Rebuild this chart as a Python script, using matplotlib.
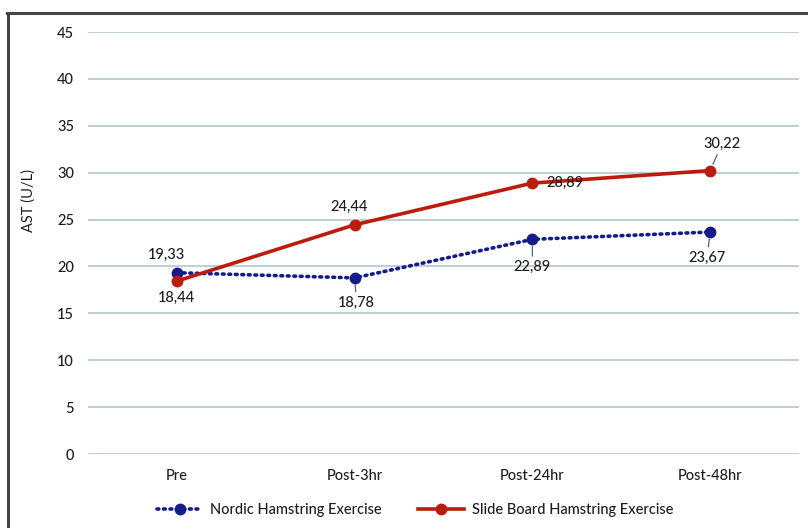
import matplotlib
matplotlib.use("Agg")
from matplotlib import pyplot as plt
from matplotlib.lines import Line2D

plt.rcParams["font.family"] = ["Lato", "DejaVu Sans"]
plt.rcParams["font.weight"] = 500

# AST values per time point
times = ["Pre", "Post-3hr", "Post-24hr", "Post-48hr"]
nordic = [19.33, 18.78, 22.89, 23.67]
slide = [18.44, 24.44, 28.89, 30.22]
yticks = [0, 5, 10, 15, 20, 25, 30, 35, 40, 45]

blue = "#141c8c"
red = "#bb1c0c"
grid_col = "#b9cad6"
txt = "#1e1e1e"
fs = 10.5
dots = (0, (0.5, 1.3))

fig = plt.figure(figsize=(8.08, 5.28), dpi=100)
ax = fig.add_axes([88 / 808, 1 - 454 / 528, 711 / 808, 422 / 528])

x = list(range(len(times)))
ax.plot(x, nordic, color=blue, linestyle=dots, dash_capstyle="round",
        linewidth=2.6, marker="o", markersize=7.5, label="Nordic Hamstring Exercise", zorder=3)
ax.plot(x, slide, color=red, linewidth=2.6, marker="o", markersize=7.5,
        label="Slide Board Hamstring Exercise", zorder=4)

ax.set_xlim(-0.5, 3.5)
ax.set_ylim(0, 45)
ax.set_yticks(yticks)
ax.set_xticks(x)
ax.set_xticklabels(times)
ax.grid(axis="y", color=grid_col, linewidth=1.3)
ax.set_axisbelow(True)
for s in ax.spines.values():
    s.set_visible(False)
ax.tick_params(axis="both", length=0, labelsize=fs, colors=txt)
ax.tick_params(axis="y", pad=10)
ax.tick_params(axis="x", pad=11)
ax.set_ylabel("AST (U/L)", fontsize=fs, color=txt)
ax.yaxis.set_label_coords(-0.073, 0.600)

# data labels, offsets in pixels from each marker
def label(xi, yi, dx, dy, leader=False):
    kw = dict(textcoords="offset pixels", ha="center", va="center",
              fontsize=fs, color=txt, zorder=5)
    if leader:
        kw["arrowprops"] = dict(arrowstyle="-", color="#50677a", lw=0.9,
                                shrinkA=1, shrinkB=5)
    ax.annotate("{:.2f}".format(yi).replace(".", ","), (xi, yi), xytext=(dx, dy), **kw)

label(0, nordic[0], -10, 18)
label(1, nordic[1], 2, -25, True)
label(2, nordic[2], 0, -28, True)
label(3, nordic[3], -3, -26, True)
label(0, slide[0], 0, -17)
label(1, slide[1], -6, 18)
label(2, slide[2], 33, 0)
label(3, slide[3], 12, 27, True)

handles = [
    Line2D([], [], color=blue, linestyle=dots, dash_capstyle="round",
           linewidth=2.6, marker="o", markersize=7.5),
    Line2D([], [], color=red, linewidth=2.6, marker="o", markersize=7.5),
]
fig.legend(handles, ["Nordic Hamstring Exercise", "Slide Board Hamstring Exercise"],
           loc="center", bbox_to_anchor=(415 / 808, 1 - 510 / 528), ncol=2, frameon=False,
           fontsize=fs, handlelength=3.1, handletextpad=0.55, columnspacing=2.5,
           labelcolor=txt)

# frame on the left and top edges
fig.add_artist(Line2D([7.5 / 808, 7.5 / 808], [0, 1 - 12.5 / 528], color="#444444",
                      linewidth=2.2, transform=fig.transFigure))
fig.add_artist(Line2D([6.5 / 808, 1], [1 - 12.5 / 528, 1 - 12.5 / 528], color="#444444",
                      linewidth=2.2, transform=fig.transFigure))

fig.savefig("out.png", dpi=100)
